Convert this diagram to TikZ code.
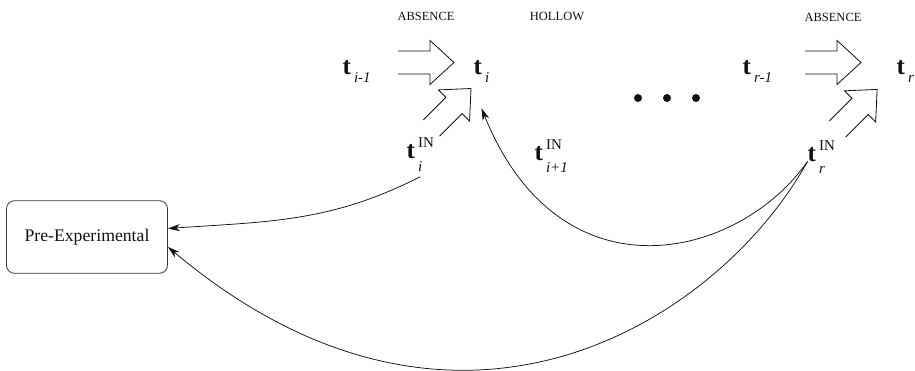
\documentclass[tikz,border=0pt]{standalone}
\usepackage{fontspec}
\setmainfont{Liberation Serif}
\usetikzlibrary{arrows.meta,positioning}
\definecolor{ink}{HTML}{111111}
\definecolor{frame}{HTML}{3A3A3A}
\newcommand{\subfont}{\fontsize{15}{15}\selectfont\mdseries\itshape}
\newcommand{\suprm}{\fontsize{15}{15}\selectfont\mdseries\upshape}
\newcommand{\tsub}[1]{\textbf{t}\kern3pt\raisebox{-8pt}{\subfont #1}}
\newcommand{\tinsub}[1]{\textbf{t}\kern3pt\rlap{\raisebox{-12.5pt}{\subfont #1}}\raisebox{11pt}{\suprm IN}}
\tikzset{
  >=Stealth,
  tvar/.style={anchor=base west,inner sep=0pt,text=ink,font=\fontsize{25}{25}\selectfont\bfseries},
  tag/.style={text=ink,inner sep=0pt,font=\fontsize{12.5}{12.5}\selectfont},
  stagebox/.style={draw=frame,line width=0.8pt,rounded corners=8pt,minimum width=161pt,minimum height=72.6pt,inner sep=0pt,text=ink,font=\fontsize{17.7}{17.7}\selectfont},
  flow/.style={-{Stealth[length=12pt,width=7pt,inset=3.5pt]},line width=0.75pt,draw=ink},
  blockline/.style={line width=0.8pt,draw=ink},
  hollowarrow/.pic={\draw[blockline] (0,11.5) -- (32,11.5) -- (32,22) -- (56,0) -- (32,-22) -- (32,-11.5) -- (0,-11.5);},
}

\begin{document}
\begin{tikzpicture}[x=1pt,y=1pt]
\useasboundingbox (0,0) rectangle (915,-371);

\node[tag] (absA) at (426,-16.7) {ABSENCE};
\node[tag] (hollow) at (557,-16.7) {HOLLOW};
\node[tag] (absB) at (833,-17) {ABSENCE};

\node[tvar] (ti1) at (342.5,-75) {\tsub{i-1}};
\node[tvar] (ti) at (473.5,-75) {\tsub{i}};
\node[tvar] (tr1) at (742.5,-75) {\tsub{r-1}};
\node[tvar] (tr) at (896.5,-75) {\tsub{r}};
\node[tvar] (tin) at (406.5,-159) {\tinsub{i}};
\node[tvar] (tin1) at (534.5,-160.5) {\tinsub{i+1}};
\node[tvar] (trn) at (807.5,-161.5) {\tinsub{r}};

\node[stagebox] (pre) at (87,-237) {Pre-Experimental};

\pic at (398,-62.5) {hollowarrow};
\pic at (805,-62.5) {hollowarrow};
\pic[rotate=45] at (431.4,-128.1) {hollowarrow};
\pic[rotate=45] at (837.5,-129) {hollowarrow};

\foreach \x in {638,667,696}
  \fill[ink] (\x,-98) circle (4pt);

\draw[flow] ([yshift=-5pt]tin.south) to[out=207,in=4] (pre.6);
\draw[flow] (trn.base west) to[out=235,in=-68,out distance=120pt,in distance=210pt] ([yshift=-25pt]ti.south);
\draw[flow] (trn.base west) to[out=241,in=-40,out distance=180pt,in distance=380pt] (pre.-7);

\end{tikzpicture}
\end{document}
